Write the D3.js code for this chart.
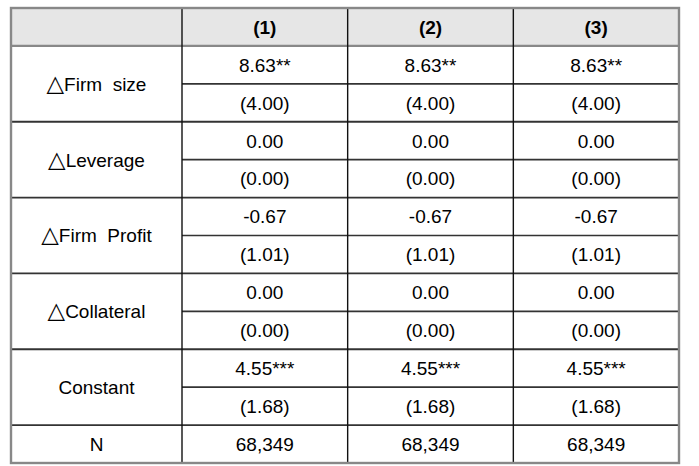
<!DOCTYPE html>
<html>
<head>
<meta charset="utf-8">
<script src="https://cdn.jsdelivr.net/npm/d3@7"></script>
<style>
  body { margin: 0; background: #fff; }
  text { font-family: "Liberation Sans", Arial, sans-serif; fill: #000; }
</style>
</head>
<body>
<svg id="chart"></svg>
<script>
// regression table values
var models = ["(1)", "(2)", "(3)"];
var variables = ["Firm  size", "Leverage", "Firm  Profit", "Collateral", "Constant"];
var isDelta = [true, true, true, true, false];
var coefs = [
    ["8.63**", "8.63**", "8.63**"],
    ["0.00", "0.00", "0.00"],
    ["-0.67", "-0.67", "-0.67"],
    ["0.00", "0.00", "0.00"],
    ["4.55***", "4.55***", "4.55***"]
];
var ses = [
    ["(4.00)", "(4.00)", "(4.00)"],
    ["(0.00)", "(0.00)", "(0.00)"],
    ["(1.01)", "(1.01)", "(1.01)"],
    ["(0.00)", "(0.00)", "(0.00)"],
    ["(1.68)", "(1.68)", "(1.68)"]
];
var nObs = ["68,349", "68,349", "68,349"];

var W = 699, H = 466;
var tLeft = 11, labelRight = 182, tRight = 679, tTop = 8, tBottom = 463;
var fs = 19;

var svg = d3.select('#chart').attr("width", W).attr("height", H);

// 1 header + 2 rows per variable + N row
var rowKeys = ["head"];
variables.forEach(function (v, i) { rowKeys.push("c" + i); rowKeys.push("s" + i); });
rowKeys.push("n");

var y = d3.scaleBand().domain(rowKeys).range([tTop, tBottom]);
var x = d3.scaleBand().domain(models).range([labelRight, tRight]);
var midX = function (m) { return x(m) + x.bandwidth() / 2; };

// header background
svg.append("rect")
    .attr("x", tLeft).attr("y", tTop)
    .attr("width", tRight - tLeft).attr("height", y.bandwidth())
    .attr("fill", "#e6e6e6");

// header text
svg.selectAll("text.head")
    .data(models)
    .enter().append("text")
    .attr("class", "head")
    .attr("x", midX)
    .attr("y", y("head") + y.bandwidth() / 2)
    .attr("dy", "0.36em")
    .attr("text-anchor", "middle")
    .attr("font-weight", "bold")
    .attr("font-size", fs)
    .text(function (d) { return d; });

// variable labels (span two rows)
var vl = svg.selectAll("text.var")
    .data(variables)
    .enter().append("text")
    .attr("class", "var")
    .attr("x", (tLeft + labelRight) / 2)
    .attr("y", function (d, i) { return y("s" + i); })
    .attr("dy", "0.36em")
    .attr("text-anchor", "middle")
    .attr("font-size", fs)
    .style("white-space", "pre");
vl.filter(function (d, i) { return isDelta[i]; })
    .append("tspan")
    .style("font-family", "'DejaVu Sans'")
    .attr("font-size", fs * 1.2)
    .text("\u25B3");
vl.append("tspan").text(function (d) { return d; });

svg.append("text")
    .attr("x", (tLeft + labelRight) / 2)
    .attr("y", y("n") + y.bandwidth() / 2)
    .attr("dy", "0.36em")
    .attr("text-anchor", "middle")
    .attr("font-size", fs)
    .text("N");

// cells
function cells(arr, prefix) {
    arr.forEach(function (row, i) {
        svg.selectAll("text." + prefix + i)
            .data(row)
            .enter().append("text")
            .attr("class", prefix + i)
            .attr("x", function (d, j) { return midX(models[j]); })
            .attr("y", y(prefix + i) + y.bandwidth() / 2)
            .attr("dy", "0.36em")
            .attr("text-anchor", "middle")
            .attr("font-size", fs)
            .text(function (d) { return d; });
    });
}
cells(coefs, "c");
cells(ses, "s");

svg.selectAll("text.nobs")
    .data(nObs)
    .enter().append("text")
    .attr("class", "nobs")
    .attr("x", function (d, j) { return midX(models[j]); })
    .attr("y", y("n") + y.bandwidth() / 2)
    .attr("dy", "0.36em")
    .attr("text-anchor", "middle")
    .attr("font-size", fs)
    .text(function (d) { return d; });

// lines between coef and se rows (model columns only)
svg.selectAll("line.sub")
    .data(variables)
    .enter().append("line")
    .attr("class", "sub")
    .attr("x1", labelRight).attr("x2", tRight)
    .attr("y1", function (d, i) { return y("s" + i); })
    .attr("y2", function (d, i) { return y("s" + i); })
    .attr("stroke", "#333").attr("stroke-width", 1.6);

// group lines across whole width
var groupLines = ["c0", "c1", "c2", "c3", "c4", "n"];
svg.selectAll("line.grp")
    .data(groupLines)
    .enter().append("line")
    .attr("class", "grp")
    .attr("x1", tLeft).attr("x2", tRight)
    .attr("y1", function (d) { return y(d); })
    .attr("y2", function (d) { return y(d); })
    .attr("stroke", function (d) { return d === "c0" ? "#888" : "#333"; })
    .attr("stroke-width", function (d) { return d === "c0" ? 2.2 : 1.8; });

// vertical dividers
var vx = [labelRight].concat(models.slice(1).map(function (m) { return x(m); }));
svg.selectAll("line.v")
    .data(vx)
    .enter().append("line")
    .attr("class", "v")
    .attr("x1", function (d) { return d; }).attr("x2", function (d) { return d; })
    .attr("y1", tTop).attr("y2", tBottom)
    .attr("stroke", "#111").attr("stroke-width", 1.4);

// outer border
svg.append("rect")
    .attr("x", tLeft).attr("y", tTop)
    .attr("width", tRight - tLeft).attr("height", tBottom - tTop)
    .attr("fill", "none")
    .attr("stroke", "#888").attr("stroke-width", 2.4);
</script>
</body>
</html>
